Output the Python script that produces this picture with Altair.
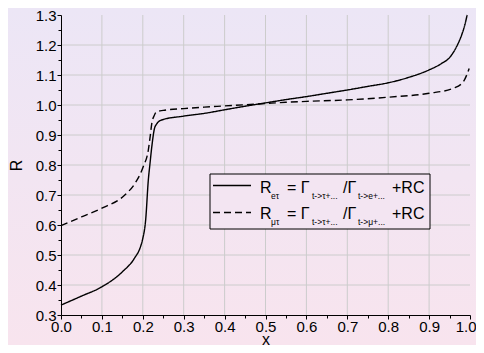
import altair as alt
import pandas as pd

# ---- data ----
x_e = [0.0, 0.05, 0.1, 0.15, 0.18, 0.195, 0.2, 0.207, 0.2135, 0.218, 0.222, 0.23, 0.246,
       0.3, 0.35, 0.4, 0.45, 0.5, 0.55, 0.6, 0.65, 0.7, 0.75, 0.8, 0.85, 0.9, 0.93, 0.95,
       0.967, 0.98, 0.987, 0.993]
r_e = [0.333, 0.363, 0.394, 0.444, 0.49, 0.53, 0.555, 0.617, 0.75, 0.81, 0.861, 0.928, 0.950,
       0.963, 0.972, 0.984, 0.996, 1.007, 1.018, 1.028, 1.039, 1.05, 1.062, 1.074, 1.092, 1.117,
       1.138, 1.158, 1.194, 1.235, 1.265, 1.3]

x_mu = [0.0, 0.05, 0.1, 0.156, 0.181, 0.201, 0.2135, 0.218, 0.222, 0.228, 0.234, 0.25, 0.3,
        0.35, 0.4, 0.45, 0.5, 0.55, 0.6, 0.7, 0.8, 0.9, 0.96, 0.984, 0.992, 0.998]
r_mu = [0.598, 0.627, 0.656, 0.70, 0.739, 0.794, 0.85, 0.895, 0.939, 0.965, 0.978, 0.982, 0.988,
        0.993, 0.997, 1.001, 1.005, 1.009, 1.012, 1.017, 1.026, 1.039, 1.056, 1.078, 1.1, 1.122]

series_names = ["R_etau", "R_mutau"]

# legend text pieces
leg_text = ["R", "eτ", "= Γ", "t->τ+...", "/Γ", "t->e+...", "+RC",
            "R", "μτ", "= Γ", "t->τ+...", "/Γ", "t->μ+...", "+RC"]
leg_row = [0, 0, 0, 0, 0, 0, 0, 1, 1, 1, 1, 1, 1, 1]
leg_sub = [0, 1, 0, 1, 0, 1, 0, 0, 1, 0, 1, 0, 1, 0]
leg_px = [199, 210, 226, 251, 282, 297, 331, 199, 210, 226, 251, 282, 297, 331]

x_ticks = [round(i * 0.05, 2) for i in range(21)]
y_ticks = [round(0.3 + i * 0.05, 2) for i in range(21)]
x_grid = [0.1, 0.2, 0.3, 0.4, 0.5, 0.6, 0.7, 0.8, 0.9]
y_grid = [0.4, 0.5, 0.6, 0.7, 0.8, 0.9, 1.0, 1.1, 1.2]

# ---- tables ----
df = pd.concat([
    pd.DataFrame({"x": x_e, "R": r_e, "s": series_names[0]}),
    pd.DataFrame({"x": x_mu, "R": r_mu, "s": series_names[1]}),
])

row_base = [177.7, 204.3]
sub_base = [184.3, 210.3]

W, H = 409, 300
PL, PT, PR, PB = 53, 7, 6, 30

major = "abs(round(datum.value*10) - datum.value*10) < 0.001"
lab = f"{major} ? format(datum.value, '.1f') : ''"
last = "datum.value > 0.99"

grad = alt.Gradient(
    gradient="linear",
    stops=[alt.GradientStop(color="#ece6f6", offset=0),
           alt.GradientStop(color="#f8e4ee", offset=1)],
    x1=0, x2=0, y1=0, y2=1,
)

one = pd.DataFrame({"a": [0]})
xs = alt.Scale(domain=[0, 1], nice=False, zero=False)
ys = alt.Scale(domain=[0.3, 1.3], nice=False, zero=False)

xaxis = alt.Axis(
    values=x_ticks, labelExpr=lab, labelOverlap=False, labelFlush=False, labelBound=False,
    grid=False, zindex=2,
    tickSize={"condition": {"test": major, "value": 4}, "value": 3}, labelPadding=0,
    labelAlign={"condition": {"test": last, "value": "right"}, "value": "center"},
    labelOffset={"condition": {"test": last, "value": 6}, "value": 0},
    title="x", titleBaseline="alphabetic", titleY=29.5,
)
yaxis = alt.Axis(
    values=y_ticks, labelExpr=lab, labelOverlap=False, labelFlush=False, grid=False, zindex=2,
    tickSize={"condition": {"test": major, "value": 4}, "value": 3}, labelPadding=1,
    title="R", titlePadding=11,
)

bg = alt.Chart(one).mark_rect(fill=grad, strokeWidth=0).encode(
    x=alt.value(-PL), x2=alt.value(W + PR), y=alt.value(-PT), y2=alt.value(H + PB)
)

gx = alt.Chart(pd.DataFrame({"x": x_grid})).mark_rule(color="#cccccc", strokeWidth=1).encode(
    x=alt.X("x:Q", scale=xs, axis=xaxis)
)
gy = alt.Chart(pd.DataFrame({"R": y_grid})).mark_rule(color="#cccccc", strokeWidth=1).encode(
    y=alt.Y("R:Q", scale=ys, axis=yaxis)
)

lines = alt.Chart(df).mark_line(color="black", strokeWidth=1.4, interpolate="monotone").encode(
    x=alt.X("x:Q", scale=xs, axis=xaxis),
    y=alt.Y("R:Q", scale=ys, axis=yaxis),
    strokeDash=alt.StrokeDash("s:N", scale=alt.Scale(domain=series_names, range=[[1, 0], [7, 4]]), legend=None),
)

box = alt.Chart(one).mark_rect(fill="#f3e5f2", stroke="black", strokeWidth=1).encode(
    x=alt.value(149), x2=alt.value(369), y=alt.value(159), y2=alt.value(214)
)
sample1 = alt.Chart(one).mark_rule(color="black", strokeWidth=1.4).encode(
    x=alt.value(152), x2=alt.value(190), y=alt.value(170.5)
)
sample2 = alt.Chart(one).mark_rule(color="black", strokeWidth=1.4, strokeDash=[7, 4]).encode(
    x=alt.value(152), x2=alt.value(190), y=alt.value(197.5)
)

texts = []
for t, r, s, px in zip(leg_text, leg_row, leg_sub, leg_px):
    texts.append(
        alt.Chart(one).mark_text(
            align="left", baseline="alphabetic", font="Liberation Sans", color="black",
            fontSize=8.5 if s else 16, text=t,
        ).encode(x=alt.value(px), y=alt.value(sub_base[r] if s else row_base[r]))
    )

chart = alt.layer(bg, gx, gy, lines, box, sample1, sample2, *texts).properties(
    width=W, height=H,
    autosize=alt.AutoSizeParams(type="none"),
    padding={"left": PL, "top": PT, "right": PR, "bottom": PB},
    background="#f2e5f2",
).configure_view(stroke=None).configure_axis(
    domainColor="black", domainWidth=1, tickColor="black", tickWidth=1,
    labelFont="Liberation Sans", labelFontSize=15, labelColor="black",
    titleFont="Liberation Sans", titleFontSize=16, titleFontWeight="normal", titleColor="black",
)

chart.save("out.html", embed_options={"renderer": "svg", "actions": False})
